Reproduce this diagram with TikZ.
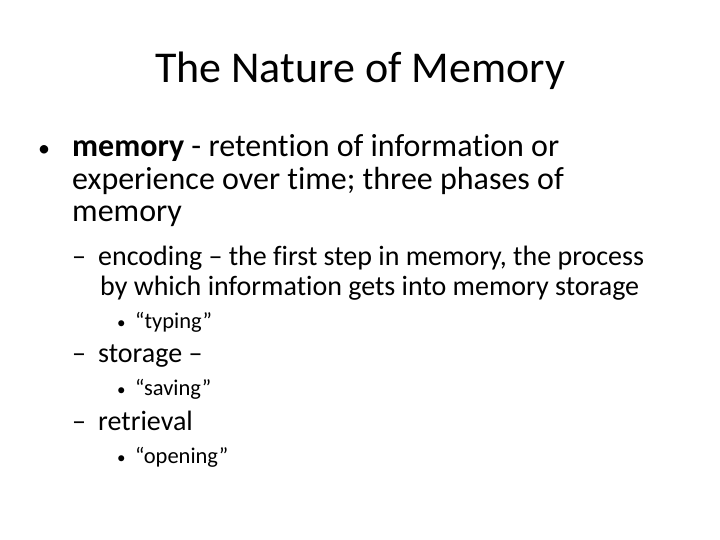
\documentclass[tikz,border=0pt]{standalone}
\usepackage{fontspec}
\setmainfont[Ligatures={NoCommon}]{Carlito}
\begin{document}
\begin{tikzpicture}[x=1pt,y=-1pt,
  t/.style={anchor=base west,inner sep=0pt},
  l1/.style={t,font=\fontsize{32}{36}\selectfont},
  l2/.style={t,font=\fontsize{28}{32}\selectfont},
  l3/.style={t,font=\fontsize{22.5}{26}\selectfont}]
\useasboundingbox (0,0) rectangle (720,540);
\node[inner sep=0pt,anchor=base,font=\fontsize{44}{48}\selectfont] (title) at (360,83) {The Nature of Memory};
\node[l1,font=\fontsize{24}{28}\selectfont] (b1) at (38,157) {•};
\node[l1] (a1) at (72,157) {\textbf{memory} - retention of information or};
\node[l1] (a2) at (72,190) {experience over time; three phases of};
\node[l1] (a3) at (72,222) {memory};
\node[l2] (d1) at (72,265) {–};
\node[l2] (e1) at (98,265) {encoding – the first step in memory, the process};
\node[l2] (e2) at (100,295) {by which information gets into memory storage};
\node[l3,font=\fontsize{17}{20}\selectfont] (c1) at (117,328) {•};
\node[l3] (f1) at (135,328) {“typing”};
\node[l2] (d2) at (72,362) {–};
\node[l2] (g1) at (98,362) {storage –};
\node[l3,font=\fontsize{17}{20}\selectfont] (c2) at (117,395) {•};
\node[l3] (f2) at (135,395) {“saving”};
\node[l2] (d3) at (72,430) {–};
\node[l2] (g2) at (98,430) {retrieval};
\node[l3,font=\fontsize{17}{20}\selectfont] (c3) at (117,463) {•};
\node[l3] (f3) at (135,463) {“opening”};
\end{tikzpicture}
\end{document}
